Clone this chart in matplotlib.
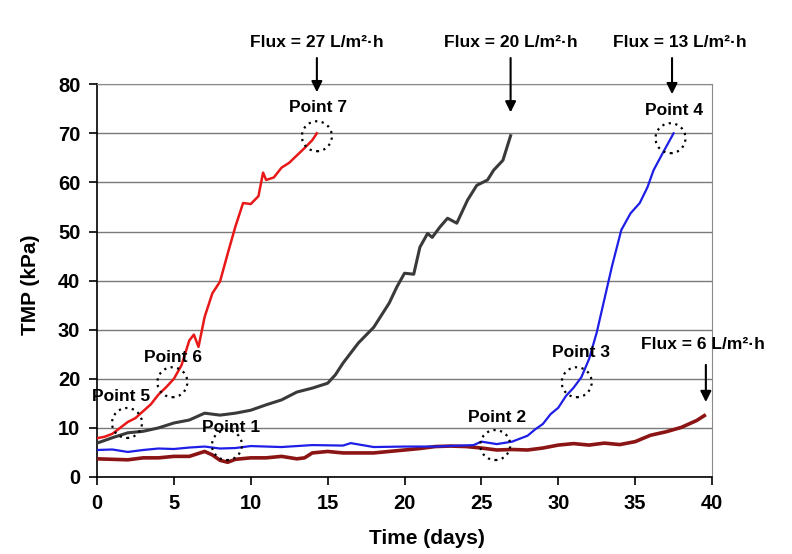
import numpy as np
import matplotlib.pyplot as plt
from matplotlib.patches import Ellipse

plt.rcParams['font.family'] = ['Liberation Sans', 'DejaVu Sans']
plt.rcParams['font.weight'] = 'bold'

# Flux = 27 L/m2.h (red)
day_27 = [0, 0.5, 1, 1.5, 2, 2.5, 3, 3.5, 4, 4.5, 5, 5.5, 6, 6.3, 6.6, 7, 7.5, 8, 8.5,
          9, 9.5, 10, 10.5, 10.8, 11, 11.5, 12, 12.5, 13, 13.5, 14, 14.3]
tmp_27 = [7.9, 8.2, 8.8, 10.0, 11.2, 12.0, 13.4, 14.8, 16.8, 18.3, 20.0, 22.8, 27.8, 29.0,
          26.5, 32.6, 37.4, 39.8, 45.5, 51.0, 55.8, 55.6, 57.2, 62.0, 60.5, 61.0, 63.0, 64.0,
          65.5, 67.0, 68.6, 70.0]

# Flux = 20 L/m2.h (dark grey)
day_20 = [0, 1, 2, 3, 4, 5, 6, 7, 8, 9, 10, 11, 12, 13, 14, 15, 15.5, 16, 17, 18, 19,
          19.5, 20, 20.6, 21, 21.5, 21.8, 22.3, 22.8, 23.4, 24.1, 24.7, 25.4, 25.8, 26.4, 26.9]
tmp_20 = [6.9, 8.0, 9.0, 9.3, 10.0, 11.0, 11.6, 13.0, 12.6, 13.0, 13.6, 14.7, 15.7, 17.3,
          18.1, 19.1, 20.8, 23.2, 27.3, 30.5, 35.4, 38.7, 41.5, 41.3, 46.8, 49.6, 48.8, 50.9,
          52.7, 51.7, 56.4, 59.4, 60.5, 62.5, 64.5, 69.5]

# Flux = 13 L/m2.h (blue)
day_13 = [0, 1, 2, 3, 4, 5, 6, 7, 8, 9, 10, 12, 14, 16, 16.5, 18, 20, 22, 24.5, 25, 26,
          27, 27.5, 28, 28.5, 29, 29.5, 30, 30.5, 31, 31.5, 32, 32.5, 33, 33.5, 34.1, 34.7,
          35.3, 35.8, 36.2, 36.8, 37.5]
tmp_13 = [5.5, 5.6, 5.1, 5.5, 5.8, 5.7, 6.0, 6.2, 5.8, 5.9, 6.3, 6.1, 6.5, 6.4, 6.9, 6.1,
          6.2, 6.2, 6.5, 7.2, 6.7, 7.2, 7.8, 8.4, 9.7, 10.8, 12.8, 14.1, 16.5, 18.2, 20.3,
          24.0, 29.4, 36.2, 43.0, 50.3, 53.7, 55.8, 59.0, 62.5, 66.0, 70.0]

# Flux = 6 L/m2.h (dark red)
day_6 = [0, 1, 2, 3, 4, 5, 6, 7, 7.5, 8, 8.5, 9, 10, 11, 12, 13, 13.5, 14, 15, 16, 17, 18,
         19, 20, 21, 22, 23, 24, 25, 26, 27, 28, 29, 30, 31, 32, 33, 34, 35, 36, 37, 38, 39,
         39.5]
tmp_6 = [3.7, 3.6, 3.5, 3.9, 3.9, 4.2, 4.2, 5.2, 4.5, 3.4, 3.0, 3.6, 3.9, 3.9, 4.2, 3.7, 3.9,
         4.9, 5.2, 4.9, 4.9, 4.9, 5.2, 5.5, 5.8, 6.2, 6.3, 6.2, 5.9, 5.5, 5.6, 5.5, 5.9, 6.5,
         6.8, 6.5, 6.9, 6.6, 7.2, 8.5, 9.2, 10.1, 11.5, 12.5]

flux_labels = ['Flux = 27 L/m²·h', 'Flux = 20 L/m²·h', 'Flux = 13 L/m²·h', 'Flux = 6 L/m²·h']
point_labels = ['Point 1', 'Point 2', 'Point 3', 'Point 4', 'Point 5', 'Point 6', 'Point 7']
point_xy = [(8.45, 6.5), (25.9, 6.5), (31.2, 19.3), (37.3, 69.0), (1.95, 11.0), (4.9, 19.3), (14.3, 69.4)]
point_text_xy = [(8.7, 10.0), (26.0, 12.2), (31.5, 25.4), (37.5, 74.7), (1.55, 16.3), (4.95, 24.4), (14.35, 75.3)]

fig = plt.figure(figsize=(7.92, 5.54), dpi=100)
ax = fig.add_axes([0.1225, 0.139, 0.7765, 0.709])

ax.set_xlim(0, 40)
ax.set_ylim(0, 80)
ax.set_xticks(np.arange(0, 41, 5))
ax.set_yticks(np.arange(0, 81, 10))
ax.yaxis.grid(True, color='#7a7a7a', linewidth=1.0)
ax.set_axisbelow(True)

ax.plot(day_6, tmp_6, color='#8b1414', linewidth=2.6, zorder=3)
ax.plot(day_13, tmp_13, color='#1e1ee6', linewidth=1.6, zorder=4)
ax.plot(day_20, tmp_20, color='#3a3a3a', linewidth=2.2, zorder=3)
ax.plot(day_27, tmp_27, color='#e81818', linewidth=1.8, zorder=4)

for spine in ['left', 'bottom']:
    ax.spines[spine].set_color('black')
    ax.spines[spine].set_linewidth(1.2)
for spine in ['top', 'right']:
    ax.spines[spine].set_color('#8a8a8a')
ax.tick_params(axis='both', direction='out', length=6, width=1.2, labelsize=14.5, pad=6)
for lab in ax.get_xticklabels() + ax.get_yticklabels():
    lab.set_fontweight('bold')

ax.set_xlabel('Time (days)', fontsize=15, fontweight='bold')
ax.set_ylabel('TMP (kPa)', fontsize=15, fontweight='bold')
ax.xaxis.set_label_coords(0.537, -0.133)
ax.yaxis.set_label_coords(-0.093, 0.49)

# dotted circles and point labels
for (cx, cy), (tx, ty), lab in zip(point_xy, point_text_xy, point_labels):
    ax.add_patch(Ellipse((cx, cy), 1.95, 6.1, fill=False, edgecolor='black',
                         linestyle=(0, (1, 2)), linewidth=1.6, zorder=5, clip_on=False))
    ax.text(tx, ty, lab, ha='center', va='center', fontsize=12.5, fontweight='bold', zorder=6)

# flux labels with arrows
flux_text_xy = [(14.3, 88.5), (26.9, 88.5), (37.9, 88.5), (39.4, 26.9)]
flux_arrow = [((14.3, 85.9), (14.3, 77.8)), ((26.9, 85.9), (26.9, 73.7)),
              ((37.4, 85.9), (37.4, 77.4)), ((39.6, 23.4), (39.6, 14.7))]
for lab, (tx, ty), (start, end) in zip(flux_labels, flux_text_xy, flux_arrow):
    ax.text(tx, ty, lab, ha='center', va='center', fontsize=12.5, fontweight='bold',
            clip_on=False)
    ax.annotate('', xy=end, xytext=start, annotation_clip=False,
                arrowprops=dict(arrowstyle='-|>', color='black', lw=1.5, mutation_scale=16))

fig.savefig('out.png', dpi=100)
